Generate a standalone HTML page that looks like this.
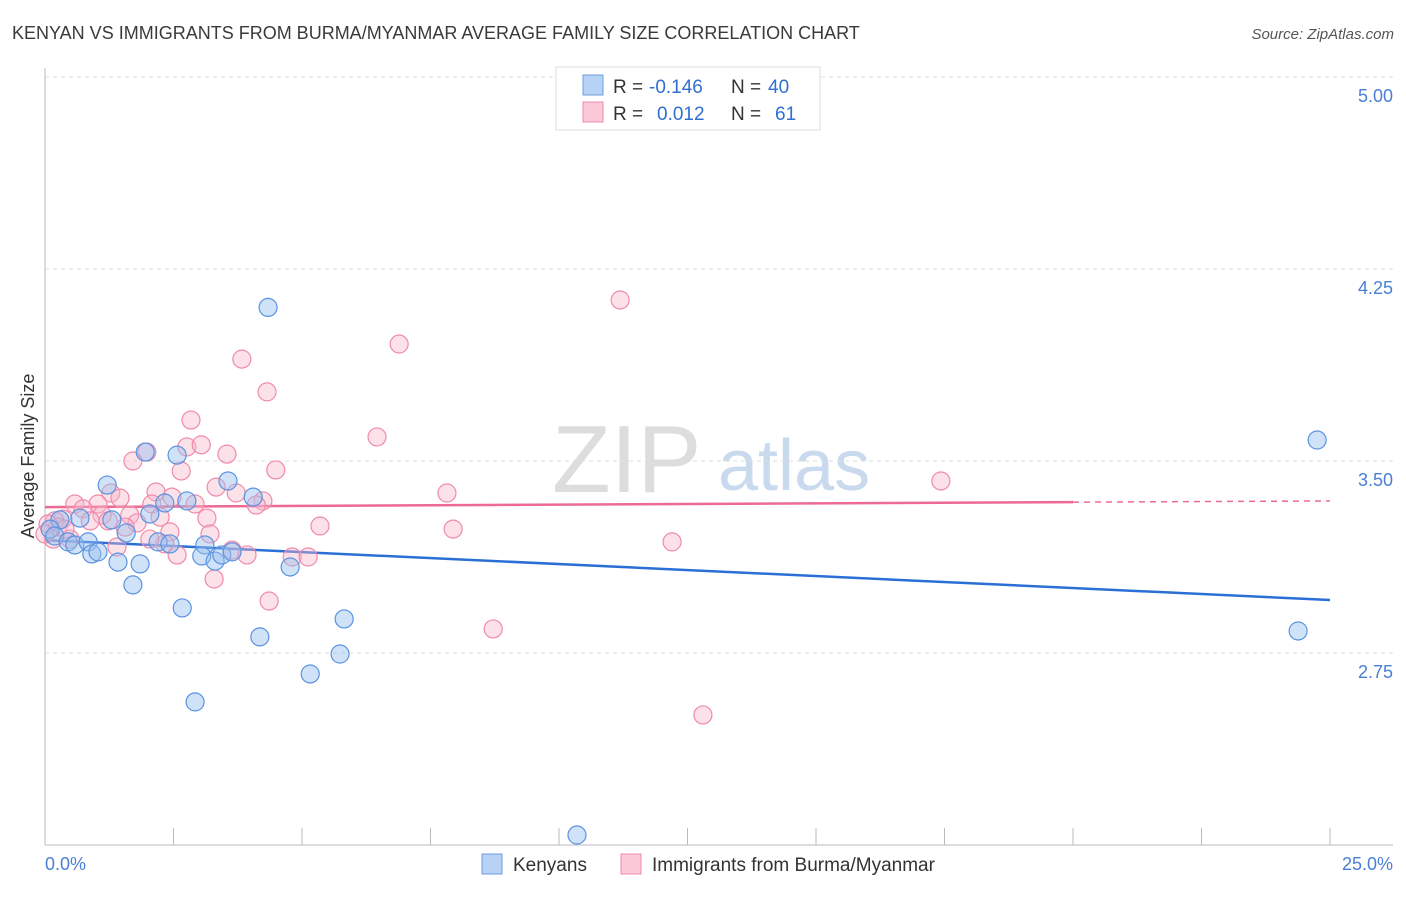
<!DOCTYPE html>
<html><head><meta charset="utf-8"><style>
body{margin:0;background:#fff;font-family:"Liberation Sans",sans-serif;}
svg text{font-family:"Liberation Sans",sans-serif;white-space:pre;}
</style></head><body>
<svg id="chart" width="1406" height="892" xmlns="http://www.w3.org/2000/svg">
<text x="12" y="39" font-size="18" fill="#3a3a3a">KENYAN VS IMMIGRANTS FROM BURMA/MYANMAR AVERAGE FAMILY SIZE CORRELATION CHART</text>
<text x="1394" y="39" font-size="15" fill="#555" font-style="italic" text-anchor="end">Source: ZipAtlas.com</text>
<g>
<text x="552" y="492" font-size="96" fill="#ddd" font-family="Liberation Serif">ZIP</text>
<text x="718" y="490" font-size="72" fill="#c9d9ee">atlas</text>
</g>
<g id="grid"></g><g id="axes"></g><g id="lines"></g><g id="points"></g>
<text transform="translate(34,456) rotate(-90)" font-size="18" fill="#333" text-anchor="middle">Average Family Size</text>
<text x="45" y="870" font-size="18" fill="#4a7fd6">0.0%</text>
<text x="1393" y="870" font-size="18" fill="#4a7fd6" text-anchor="end">25.0%</text>
<g>
<rect x="556" y="67" width="264" height="63" fill="#fff" stroke="#ddd"/>
<rect x="583" y="75" width="20" height="20" fill="#b7d2f5" stroke="#6a9fe0"/>
<rect x="583" y="102" width="20" height="20" fill="#fbc9d8" stroke="#f08aaa"/>
<text x="613" y="93" font-size="19" fill="#333">R = </text><text x="649" y="93" font-size="19" fill="#2f6fd0">-0.146</text>
<text x="731" y="93" font-size="19" fill="#333">N = </text><text x="768" y="93" font-size="19" fill="#2f6fd0">40</text>
<text x="613" y="120" font-size="19" fill="#333">R = </text><text x="657" y="120" font-size="19" fill="#2f6fd0">0.012</text>
<text x="731" y="120" font-size="19" fill="#333">N = </text><text x="775" y="120" font-size="19" fill="#2f6fd0">61</text>
</g>
<g>
<rect x="482" y="854" width="20" height="20" fill="#b7d2f5" stroke="#6a9fe0"/>
<text x="513" y="871" font-size="19" fill="#333">Kenyans</text>
<rect x="621" y="854" width="20" height="20" fill="#fbc9d8" stroke="#f08aaa"/>
<text x="652" y="871" font-size="19" fill="#333">Immigrants from Burma/Myanmar</text>
</g>
</svg>
<script>
const yTicks=[2.75,3.5,4.25,5.0];
const yTickLabels=["2.75","3.50","4.25","5.00"];
const xTicks=[0,2.5,5,7.5,10,12.5,15,17.5,20,22.5,25];
const kenyanX=[4.34,1.95,2.57,2.76,3.56,4.05,1.21,0.68,1.30,2.04,2.33,1.58,0.29,0.10,0.19,0.45,0.58,0.84,0.91,1.03,1.42,1.85,2.20,2.43,3.11,3.05,3.31,3.44,3.64,4.77,1.71,2.67,5.82,4.18,5.74,5.16,2.92,10.35,24.75,24.38];
const kenyanY=[4.10,3.535,3.523,3.344,3.422,3.359,3.406,3.277,3.270,3.293,3.336,3.219,3.270,3.234,3.207,3.184,3.172,3.184,3.137,3.145,3.105,3.098,3.184,3.176,3.172,3.129,3.109,3.133,3.145,3.086,3.016,2.926,2.883,2.813,2.746,2.668,2.559,2.039,3.582,2.836];
const burmaX=[11.19,6.89,3.83,4.32,2.84,6.46,1.98,2.76,3.04,3.54,1.71,4.49,2.65,7.82,17.43,3.33,1.28,2.16,2.47,3.72,4.24,4.11,0.58,1.03,0.74,1.46,2.08,1.65,1.11,2.24,3.15,0.88,0.35,1.79,0.19,2.43,3.21,5.35,7.94,0.16,0.49,1.40,2.33,2.57,3.64,3.93,4.81,5.12,12.20,3.29,4.36,8.72,12.80,0.25,0.06,0.39,1.23,2.92,1.56,2.04,0.0];
const burmaY=[4.129,3.957,3.898,3.770,3.660,3.594,3.535,3.555,3.563,3.527,3.500,3.465,3.461,3.375,3.422,3.398,3.375,3.379,3.359,3.375,3.344,3.328,3.332,3.332,3.313,3.355,3.332,3.289,3.289,3.281,3.277,3.266,3.273,3.258,3.266,3.223,3.215,3.246,3.234,3.195,3.195,3.164,3.176,3.133,3.152,3.133,3.125,3.125,3.184,3.039,2.953,2.844,2.508,3.242,3.254,3.234,3.266,3.332,3.242,3.195,3.215];
const kenyanTrend=[3.191,2.957];
const burmaTrend=[3.320,3.344];
const NS="http://www.w3.org/2000/svg";
const xs=v=>45+v/25*1285;
const ys=v=>845-(v-2)/3*768;
function mk(tag,attrs,parent){const e=document.createElementNS(NS,tag);for(const k in attrs)e.setAttribute(k,attrs[k]);document.getElementById(parent).appendChild(e);return e;}
yTicks.forEach((t,i)=>{
 const l=mk('line',{x1:45,x2:1393,y1:ys(t),y2:ys(t),stroke:'#ddd','stroke-dasharray':'4,4'},'grid');
 
 
 const tx=mk('text',{x:1393,y:ys(t)+25,'font-size':18,fill:'#4a7fd6','text-anchor':'end'},'grid');
 tx.textContent=yTickLabels[i];
 
 
});
const ax=mk('line',{x1:45,x2:45,y1:68,y2:845,stroke:'#bbb'},'axes');


const bx=mk('line',{x1:45,x2:1393,y1:845,y2:845,stroke:'#bbb'},'axes');


xTicks.forEach(t=>{
 const l=mk('line',{x1:xs(t),x2:xs(t),y1:828,y2:845,stroke:'#bbb'},'axes');
 
 
});
const kl=mk('line',{x1:xs(0),x2:xs(25),y1:ys(kenyanTrend[0]),y2:ys(kenyanTrend[1]),stroke:'#2a6fd6','stroke-width':2.5},'lines');


const bAt=v=>burmaTrend[0]+(burmaTrend[1]-burmaTrend[0])*v/25;
const pl=mk('line',{x1:xs(0),x2:xs(20),y1:ys(bAt(0)),y2:ys(bAt(20)),stroke:'#ec6a93','stroke-width':2.5},'lines');


const pd=mk('line',{x1:xs(20),x2:xs(25),y1:ys(bAt(20)),y2:ys(bAt(25)),stroke:'#ec6a93','stroke-width':1.5,'stroke-dasharray':'6,5'},'lines');


burmaX.forEach((x,i)=>{
 const c=mk('circle',{cx:xs(x),cy:ys(burmaY[i]),r:9,fill:'rgba(248,180,200,0.4)',stroke:'#f08aaa','stroke-width':1.2},'points');
 
 
});
kenyanX.forEach((x,i)=>{
 const c=mk('circle',{cx:xs(x),cy:ys(kenyanY[i]),r:9,fill:'rgba(150,190,240,0.45)',stroke:'#5b93e0','stroke-width':1.2},'points');
 
 
});
</script>
</body></html>
